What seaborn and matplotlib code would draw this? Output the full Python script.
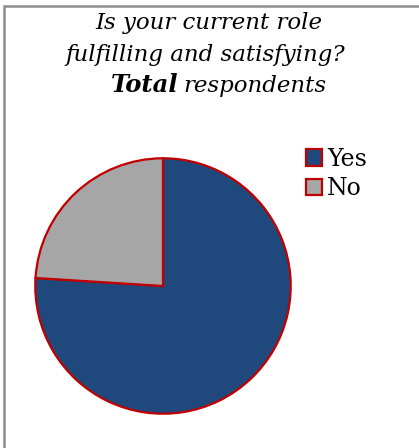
import matplotlib
matplotlib.use("Agg")
import matplotlib.pyplot as plt
import seaborn as sns
from matplotlib.patches import Rectangle

# data
labels = ["Yes", "No"]
shares = [76.0, 24.0]
colors = ["#1F497D", "#A6A6A6"]

title_lines = ["Is your current role", "fulfilling and satisfying?"]
title_bold = "Total"
title_rest = "respondents"

sns.set_style("white")
plt.rcParams["font.family"] = ["DejaVu Serif"]
plt.rcParams["text.color"] = "black"

W, H = 419, 448
fig = plt.figure(figsize=(W / 100, H / 100), dpi=100)
fig.patch.set_facecolor("white")

# chart-area border (only top and left visible)
fig.add_artist(Rectangle((3.5 / W, -0.05), 1.2, 1 - 6.5 / H + 0.05,
                         transform=fig.transFigure, fill=False,
                         edgecolor="#8C8C8C", linewidth=1.8))

# pie
cx, cy, r = 163, 286, 129
ax = fig.add_axes([(cx - r) / W, (H - cy - r) / H, 2 * r / W, 2 * r / H])
wedges, _ = ax.pie(shares, colors=colors, startangle=90, counterclock=False,
                   radius=1.0,
                   wedgeprops=dict(edgecolor="#C00000", linewidth=1.6))
ax.set_xlim(-1.01, 1.01)
ax.set_ylim(-1.01, 1.01)
ax.set_axis_off()

# title
fs = 16.5
fig.text(209 / W, 1 - 29 / H, title_lines[0], ha="center", va="baseline",
         fontsize=fs, style="italic")
fig.text(205 / W, 1 - 61 / H, title_lines[1], ha="center", va="baseline",
         fontsize=fs, style="italic")
fig.text(178 / W, 1 - 92 / H, title_bold, ha="right", va="baseline",
         fontsize=fs + 1, style="italic", weight="bold")
fig.text(183 / W, 1 - 92 / H, title_rest, ha="left", va="baseline",
         fontsize=fs, style="italic")

# legend
fig.legend(wedges, labels, loc="upper left",
           bbox_to_anchor=(294 / W, 1 - 136 / H), frameon=False,
           fontsize=17, handlelength=0.7, handleheight=0.7,
           handletextpad=0.2, labelspacing=0.28, borderpad=0.0)

fig.savefig("out.png", dpi=100)
